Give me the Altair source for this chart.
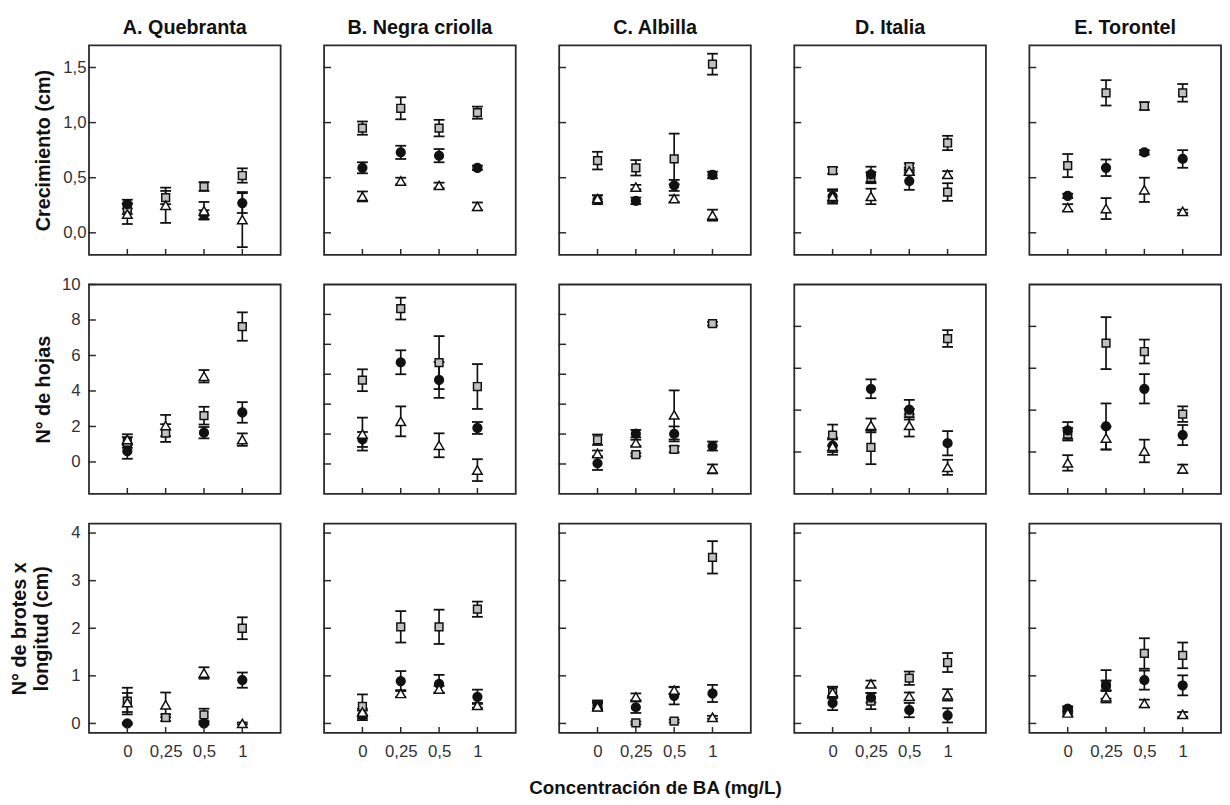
import altair as alt
import pandas as pd

VARIEDADES = ["A. Quebranta", "B. Negra criolla", "C. Albilla", "D. Italia", "E. Torontel"]
CONC = ["0", "0,25", "0,5", "1"]
SERIES = ["cuadrado", "circulo", "triangulo"]
VARIABLES = ["crec", "hojas", "brotes"]
TITULOS_Y = ["Crecimiento (cm)", "N° de hojas", ["N° de brotes x", "longitud (cm)"]]
TITULO_X = "Concentración de BA (mg/L)"

# ---- Crecimiento (cm): one row per variety, values at 0, 0,25, 0,5, 1 mg/L
CREC_CUAD = [[0.22, 0.32, 0.42, 0.52], [0.95, 1.13, 0.95, 1.09], [0.655, 0.59, 0.67, 1.53],
             [0.565, 0.50, 0.60, 0.815], [0.61, 1.27, 1.15, 1.27]]
CREC_CUAD_EE = [[0.05, 0.06, 0.04, 0.065], [0.06, 0.10, 0.075, 0.055], [0.08, 0.07, 0.23, 0.095],
                [0.03, 0.05, 0.03, 0.065], [0.105, 0.115, 0.035, 0.08]]
CREC_CIRC = [[0.26, None, 0.165, 0.27], [0.59, 0.73, 0.70, 0.59], [0.30, 0.29, 0.43, 0.525],
             [0.33, 0.53, 0.47, 0.37], [0.335, 0.59, 0.73, 0.67]]
CREC_CIRC_EE = [[0.04, 0.0, 0.04, 0.09], [0.05, 0.06, 0.06, 0.02], [0.04, 0.03, 0.05, 0.03],
                [0.05, 0.07, 0.08, 0.08], [0.02, 0.075, 0.02, 0.08]]
CREC_TRI = [[0.17, 0.25, 0.20, 0.12], [0.33, 0.47, 0.43, 0.24], [0.31, 0.415, 0.31, 0.16],
            [0.33, 0.33, 0.56, 0.53], [0.23, 0.22, 0.39, 0.195]]
CREC_TRI_EE = [[0.09, 0.16, 0.08, 0.25], [0.045, 0.03, 0.025, 0.035], [0.03, 0.02, 0.03, 0.05],
               [0.065, 0.07, 0.03, 0.03], [0.03, 0.095, 0.11, 0.015]]

# ---- N° de hojas
HOJAS_CUAD = [[1.1, 1.63, 2.61, 7.63], [5.6, 10.39, 6.78, 5.18], [1.62, 0.62, 0.98, 9.38],
              [0.81, 0.22, 1.86, 5.42], [0.85, 5.2, 4.8, 1.81]]
HOJAS_CUAD_EE = [[0.3, 0.5, 0.5, 0.8], [0.73, 0.73, 1.77, 1.5], [0.35, 0.1, 0.2, 0.12],
                 [0.5, 0.8, 0.2, 0.4], [0.3, 1.24, 0.57, 0.37]]
HOJAS_CIRC = [[0.61, None, 1.65, 2.79], [1.64, 6.8, 5.62, 2.41], [0.05, 2.03, 2.01, 1.2],
              [0.3, 3.02, 2.02, 0.42], [1.03, 1.22, 3.02, 0.81]]
HOJAS_CIRC_EE = [[0.43, 0.0, 0.32, 0.58], [0.5, 0.8, 1.2, 0.4], [0.45, 0.25, 0.5, 0.3],
                 [0.3, 0.45, 0.47, 0.58], [0.4, 1.1, 0.7, 0.48]]
HOJAS_TRI = [[1.26, 2.05, 4.83, 1.26], [2.0, 2.85, 1.25, -0.41], [0.7, 1.42, 3.28, -0.33],
             [0.27, 1.27, 1.27, -0.73], [-0.52, 0.67, 0.05, -0.8]]
HOJAS_TRI_EE = [[0.3, 0.6, 0.35, 0.35], [1.1, 1.0, 0.8, 0.73], [0.2, 0.2, 1.64, 0.3],
                [0.4, 0.33, 0.53, 0.36], [0.37, 0.55, 0.54, 0.2]]

# ---- N° de brotes x longitud (cm)
BROT_CUAD = [[0.47, 0.12, 0.18, 2.0], [0.36, 2.03, 2.03, 2.4], [0.40, 0.01, 0.05, 3.49],
             [0.65, 0.47, 0.95, 1.28], [0.27, 0.82, 1.47, 1.43]]
BROT_CUAD_EE = [[0.28, 0.07, 0.13, 0.23], [0.25, 0.33, 0.36, 0.16], [0.08, 0.03, 0.03, 0.34],
                [0.12, 0.17, 0.14, 0.2], [0.05, 0.3, 0.32, 0.27]]
BROT_CIRC = [[0.0, None, 0.0, 0.91], [0.17, 0.89, 0.83, 0.56], [0.38, 0.34, 0.58, 0.63],
             [0.43, 0.54, 0.28, 0.17], [0.31, 0.80, 0.91, 0.80]]
BROT_CIRC_EE = [[0.02, 0.0, 0.02, 0.16], [0.1, 0.21, 0.19, 0.15], [0.08, 0.12, 0.18, 0.18],
                [0.15, 0.1, 0.15, 0.15], [0.05, 0.1, 0.2, 0.21]]
BROT_TRI = [[0.44, 0.39, 1.06, 0.0], [0.24, 0.63, 0.72, 0.38], [0.35, 0.56, 0.70, 0.13],
            [0.65, 0.83, 0.57, 0.60], [0.22, 0.56, 0.42, 0.19]]
BROT_TRI_EE = [[0.2, 0.26, 0.12, 0.02], [0.07, 0.07, 0.07, 0.05], [0.08, 0.07, 0.07, 0.03],
               [0.12, 0.07, 0.08, 0.12], [0.05, 0.12, 0.08, 0.05]]

DATOS = {
    "crec": {"cuadrado": (CREC_CUAD, CREC_CUAD_EE), "circulo": (CREC_CIRC, CREC_CIRC_EE),
             "triangulo": (CREC_TRI, CREC_TRI_EE)},
    "hojas": {"cuadrado": (HOJAS_CUAD, HOJAS_CUAD_EE), "circulo": (HOJAS_CIRC, HOJAS_CIRC_EE),
              "triangulo": (HOJAS_TRI, HOJAS_TRI_EE)},
    "brotes": {"cuadrado": (BROT_CUAD, BROT_CUAD_EE), "circulo": (BROT_CIRC, BROT_CIRC_EE),
               "triangulo": (BROT_TRI, BROT_TRI_EE)},
}

# a point of the circle series that the original figure draws with a square marker
MARCADOR_DISTINTO = {("crec", 3, "1", "circulo"): "cuadrado"}

W, H = 194, 212
FONT = "Liberation Sans"
INK = "#111111"


def y_config(r, c):
    if r == 0:
        return [-0.2, 1.7], [0, 0.5, 1.0, 1.5]
    if r == 2:
        return [-0.2, 4.2], [0, 1, 2, 3, 4]
    if c == 0:
        return [-1.8, 10], [0, 2, 4, 6, 8, 10]
    if c in (1, 2):
        return [-2, 12], [0, 2, 4, 6, 8, 10]
    return [-2, 8], [0, 2, 4, 6]


charts = []
for r, var in enumerate(VARIABLES):
    for c, variedad in enumerate(VARIEDADES):
        filas = []
        for s in SERIES:
            med, ee = DATOS[var][s]
            for k, conc in enumerate(CONC):
                m = med[c][k]
                if m is None:
                    continue
                e = ee[c][k]
                forma = MARCADOR_DISTINTO.get((var, c, conc, s), s)
                filas.append({"conc": conc, "serie": s, "forma": forma,
                              "media": m, "lo": m - e, "hi": m + e})
        df = pd.DataFrame(filas)
        dom, ticks = y_config(r, c)
        yscale = alt.Scale(domain=dom, nice=False, zero=False)

        if c == 0:
            yaxis = alt.Axis(
                values=ticks, ticks=False, domain=False, grid=False,
                labelExpr=("replace(format(datum.value, '.1f'), '.', ',')" if r == 0
                           else "format(datum.value, 'd')"),
                labelPadding=3 if r == 0 else 9,
                title=TITULOS_Y[r], titleX=-46 if r < 2 else -70, titleY=H / 2,
                titleAngle=270, titleAlign="center", titleBaseline="middle",
                titleFontSize=20, titleFontWeight="bold", titleLineHeight=22,
            )
        else:
            yaxis = None

        if r == 2:
            if c == 2:
                xaxis = alt.Axis(ticks=False, domain=False, grid=False, labelAngle=0,
                                 labelPadding=11, title=TITULO_X, titleFontSize=19,
                                 titleFontWeight="bold", titleY=61,
                                 titleBaseline="alphabetic")
            else:
                xaxis = alt.Axis(ticks=False, domain=False, grid=False, labelAngle=0,
                                 labelPadding=11, title=None)
        else:
            xaxis = None

        xenc = alt.X("conc:N", sort=CONC,
                     scale=alt.Scale(type="point", domain=CONC, padding=1),
                     axis=xaxis)

        def yenc(field):
            return alt.Y(field, type="quantitative", scale=yscale, axis=yaxis)

        base = alt.Chart(df)
        barras = base.mark_rule(color=INK, strokeWidth=1.7).encode(
            x=xenc, y=yenc("lo"), y2="hi")
        tope_lo = base.mark_tick(color=INK, thickness=1.8, size=11, opacity=1).encode(
            x=xenc, y=yenc("lo"))
        tope_hi = base.mark_tick(color=INK, thickness=1.8, size=11, opacity=1).encode(
            x=xenc, y=yenc("hi"))
        puntos = base.mark_point(filled=True, stroke=INK, strokeWidth=1.5,
                                 opacity=1, fillOpacity=1).encode(
            x=xenc, y=yenc("media"),
            shape=alt.Shape("forma:N", scale=alt.Scale(domain=SERIES,
                            range=["square", "circle", "triangle-up"]), legend=None),
            fill=alt.Fill("forma:N", scale=alt.Scale(domain=SERIES,
                          range=["#c0c0c0", "#111111", "#ffffff"]), legend=None),
            size=alt.Size("forma:N", scale=alt.Scale(domain=SERIES,
                          range=[62, 95, 90]), legend=None),
        )
        ytk = alt.Chart(pd.DataFrame({"v": ticks})).mark_rule(
            color="#2a2a2a", strokeWidth=1.5).encode(
            y=yenc("v"), x=alt.value(-1), x2=alt.value(7))
        xtk = alt.Chart(pd.DataFrame({"conc": CONC})).mark_rule(
            color="#2a2a2a", strokeWidth=1.5).encode(
            x=xenc, y=alt.value(H), y2=alt.value(H - 6))

        panel = alt.layer(barras, tope_lo, tope_hi, puntos, ytk, xtk).properties(
            width=W, height=H)
        if r == 0:
            panel = panel.properties(title=alt.TitleParams(
                variedad, fontSize=20, fontWeight="bold", anchor="middle",
                baseline="alphabetic", offset=-8, font=FONT, color=INK))
        charts.append(panel)

chart = alt.concat(
    *charts, columns=5, spacing={"row": 30, "column": 44}, bounds="flush"
).configure_view(
    stroke="#2a2a2a", strokeWidth=1.8
).configure_axis(
    labelFont=FONT, labelFontSize=17, labelColor="#333333",
    titleFont=FONT, titleColor=INK,
).configure_title(
    font=FONT, fontSize=20, fontWeight="bold", color=INK
).properties(
    padding={"left": 1, "top": 4, "right": 0, "bottom": 0}
)

chart.save("out.html", embed_options={"renderer": "svg", "actions": False})
